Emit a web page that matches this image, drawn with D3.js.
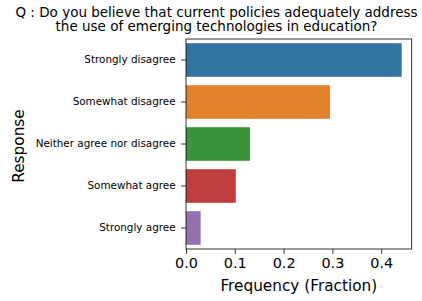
<!DOCTYPE html>
<html>
<head>
<meta charset="utf-8">
<script src="https://cdn.jsdelivr.net/npm/d3@7"></script>
<style>
  body { margin: 0; background: #fff; }
  text { font-family: "DejaVu Sans", sans-serif; fill: #000; }
</style>
</head>
<body>
<div id="chart"></div>
<script>
// chart data
const responses = ["Strongly disagree", "Somewhat disagree", "Neither agree nor disagree", "Somewhat agree", "Strongly agree"];
const fractions = [0.442, 0.295, 0.131, 0.102, 0.030];
const barColors = ["#3274a1", "#e1812c", "#3a923a", "#c03d3e", "#9372b2"];
const xTicks = [0.0, 0.1, 0.2, 0.3, 0.4];
const titleLines = ["Q : Do you believe that current policies adequately address", "the use of emerging technologies in education?"];

const W = 422, H = 301;
const margin = { top: 39, right: 10.3, bottom: 52, left: 186 };
const width = W - margin.left - margin.right,
    height = H - margin.top - margin.bottom;

const svg = d3.select("#chart")
    .append("svg")
    .attr("width", W)
    .attr("height", H);

// title
svg.append("text")
    .attr("text-anchor", "middle")
    .style("font-size", "13.5px")
    .selectAll("tspan")
    .data(titleLines)
    .enter().append("tspan")
    .attr("x", 216.5)
    .attr("y", (d, i) => 16.7 + i * 14.5)
    .text(d => d);

const g = svg.append("g")
    .attr("transform", `translate(${margin.left},${margin.top})`);

const x = d3.scaleLinear().domain([0, 0.4625]).range([0, width]);
const y = d3.scaleBand().domain(responses).range([0, height]).paddingInner(0.2).paddingOuter(0.1);

const data = responses.map((r, i) => ({ response: r, value: fractions[i], color: barColors[i] }));

g.selectAll("rect.bar")
    .data(data)
    .enter().append("rect")
    .attr("class", "bar")
    .attr("x", 0)
    .attr("y", d => y(d.response))
    .attr("width", d => x(d.value))
    .attr("height", y.bandwidth())
    .style("fill", d => d.color);

// axes
const xAxis = g.append("g")
    .attr("transform", `translate(0,${height})`)
    .call(d3.axisBottom(x).tickValues(xTicks).tickFormat(d3.format(".1f")).tickSize(4.9).tickPadding(4));
xAxis.selectAll("text").style("font-size", "14.4px");

const yAxis = g.append("g")
    .call(d3.axisLeft(y).tickSize(4.9).tickPadding(5.5));
yAxis.selectAll("text").style("font-size", "10.4px");

g.selectAll(".domain").remove();
g.selectAll(".tick line").style("stroke", "#000").style("stroke-width", 0.8);

// frame
g.append("rect")
    .attr("width", width)
    .attr("height", height)
    .style("fill", "none")
    .style("stroke", "#000")
    .style("stroke-width", 0.8);

// axis titles
svg.append("text")
    .attr("x", margin.left + width / 2)
    .attr("y", 290.5)
    .attr("text-anchor", "middle")
    .style("font-size", "15.3px")
    .text("Frequency (Fraction)");

svg.append("text")
    .attr("transform", `translate(24,${margin.top + height / 2 + 2}) rotate(-90)`)
    .attr("text-anchor", "middle")
    .style("font-size", "15.3px")
    .text("Response");
</script>
</body>
</html>
